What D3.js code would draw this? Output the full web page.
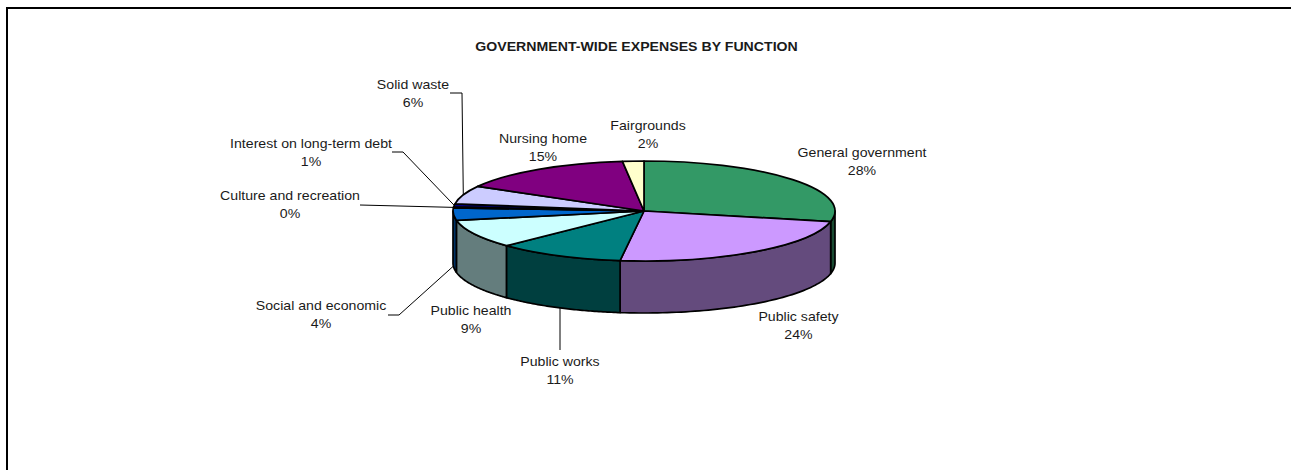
<!DOCTYPE html>
<html>
<head>
<meta charset="utf-8">
<script src="https://cdn.jsdelivr.net/npm/d3@7"></script>
<style>
  html, body { margin: 0; padding: 0; background: #fff; }
  svg { display: block; }
  text { font-family: "Liberation Sans", Arial, sans-serif; fill: #1a1a1a; }
</style>
</head>
<body>
<svg id="chart" width="1291" height="470"></svg>
<script>
// Expense shares by function, clockwise from twelve o'clock.
const functions = ["General government", "Public safety", "Public works", "Public health",
  "Social and economic", "Culture and recreation", "Interest on long-term debt",
  "Solid waste", "Nursing home", "Fairgrounds"];
const shares = [28.4, 23.6, 10.8, 9.2, 4, 0.3, 1, 5.9, 15, 1.8];
const topColors = ["#339966", "#CC99FF", "#008080", "#CCFFFF", "#0066CC",
  "#660066", "#000080", "#CCCCFF", "#800080", "#FFFFCC"];
const titleText = "GOVERNMENT-WIDE EXPENSES BY FUNCTION";

// Label placement: centre of the two-line label, and optional leader routing.
const labelLayout = {
  "General government":         { x: 862, y: 153 },
  "Public safety":              { x: 798.5, y: 317 },
  "Public works":               { x: 560, y: 362, leader: [[560, 350]], plumb: true },
  "Public health":              { x: 471, y: 311 },
  "Social and economic":        { x: 321, y: 306, leader: [[388, 315], [399, 315]], rim: true },
  "Culture and recreation":     { x: 290, y: 196, leader: [[360, 205]] },
  "Interest on long-term debt": { x: 311, y: 144, leader: [[392, 152], [403, 152]] },
  "Solid waste":                { x: 413, y: 85,  leader: [[450, 93], [462, 93]] },
  "Nursing home":               { x: 543, y: 139 },
  "Fairgrounds":                { x: 648, y: 126 }
};

const cx = 644, cy = 211, rx = 191, ry = 50, depth = 52;
const textStretch = 1.088;
const svg = d3.select("#chart");

// Outer frame: only the top and left edges fall inside the visible area.
svg.append("rect")
  .attr("x", 7).attr("y", 8).attr("width", 1320).attr("height", 500)
  .attr("fill", "#fff").attr("stroke", "#000").attr("stroke-width", 2);

svg.append("text")
  .attr("transform", `translate(636.5,51) scale(${textStretch},1)`)
  .attr("text-anchor", "middle")
  .attr("font-size", 13).attr("font-weight", "bold")
  .text(titleText);

const arcs = d3.pie().value(d => d).sort(null)(shares);
const px = a => cx + rx * Math.sin(a);
const py = a => cy - ry * Math.cos(a);

// Side wall: only the part of each slice facing the viewer (between 3 and 9 o'clock).
const wall = d3.line().x(d => d[0]).y(d => d[1]);
const sideGroup = svg.append("g");
arcs.forEach((arc, i) => {
  const a0 = Math.max(arc.startAngle, Math.PI / 2);
  const a1 = Math.min(arc.endAngle, 3 * Math.PI / 2);
  if (a1 <= a0) return;
  const steps = d3.range(0, 61).map(k => a0 + (a1 - a0) * k / 60);
  const pts = steps.map(a => [px(a), py(a)])
    .concat(steps.slice().reverse().map(a => [px(a), py(a) + depth]));
  sideGroup.append("path")
    .attr("d", wall(pts) + "Z")
    .attr("fill", d3.color(topColors[i]).darker(2).formatHex())
    .attr("stroke", "#000").attr("stroke-width", 1.7).attr("stroke-linejoin", "round");
});

// Top face: a circular arc squashed into an ellipse.
const arcGen = d3.arc().innerRadius(0).outerRadius(rx);
svg.append("g")
  .attr("transform", `translate(${cx},${cy}) scale(1,${ry / rx})`)
  .selectAll("path").data(arcs).join("path")
  .attr("d", arcGen)
  .attr("fill", (d, i) => topColors[i])
  .attr("stroke", "#000").attr("stroke-width", 1.7)
  .attr("stroke-linejoin", "round")
  .attr("vector-effect", "non-scaling-stroke");

// Labels and leader lines; leaders end on the slice's mid-angle,
// or drop straight onto the lower rim when marked as plumb.
const pct = d3.format(".0f");
arcs.forEach((arc, i) => {
  const name = functions[i];
  const l = labelLayout[name];
  const t = svg.append("text")
    .attr("transform", `translate(${l.x},${l.y}) scale(${textStretch},1)`)
    .attr("text-anchor", "middle").attr("font-size", 13);
  t.append("tspan").attr("x", 0).attr("y", 4).text(name);
  t.append("tspan").attr("x", 0).attr("y", 22).text(pct(arc.value) + "%");
  if (l.leader) {
    const mid = (arc.startAngle + arc.endAngle) / 2;
    let end = [px(mid), py(mid) + (l.rim ? depth : 0)];
    if (l.plumb) {
      const x = l.leader[0][0];
      const u = (x - cx) / rx;
      end = [x, cy + ry * Math.sqrt(1 - u * u) + depth];
    }
    svg.append("path")
      .attr("d", d3.line()(l.leader.concat([end])))
      .attr("fill", "none").attr("stroke", "#000").attr("stroke-width", 1);
  }
});
</script>
</body>
</html>
